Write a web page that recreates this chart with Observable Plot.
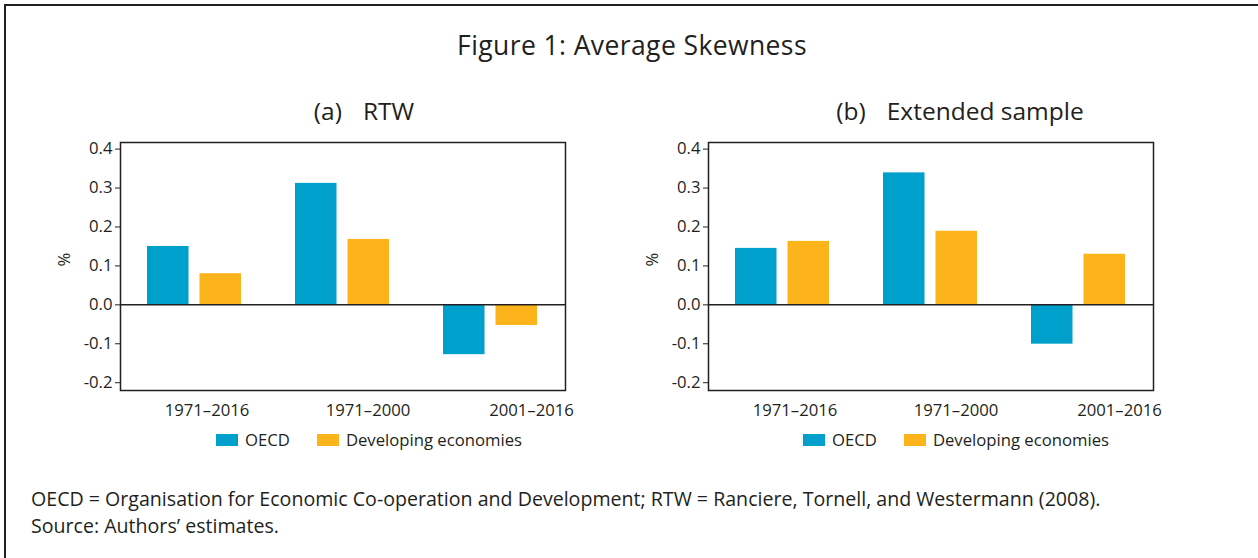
<!DOCTYPE html>
<html>
<head>
<meta charset="utf-8">
<script src="https://cdn.jsdelivr.net/npm/d3@7"></script>
<script src="https://cdn.jsdelivr.net/npm/@observablehq/plot@0.6"></script>
<style>
  html, body { margin: 0; padding: 0; background: #fff; }
  body { font-family: "Open Sans", "Noto Sans", sans-serif; color: #231f20; }
  #fig { position: relative; width: 1258px; height: 558px; overflow: hidden; }
  #border { position: absolute; left: 4px; top: 4px; right: -10px; bottom: -10px; border-top: 2px solid #231f20; border-left: 2px solid #231f20; }
  .abs { position: absolute; }
  #title { left: 0; width: 1264px; top: 27px; text-align: center; font-size: 26.5px; letter-spacing: 0.4px; }
  .sub { font-size: 24.5px; text-align: center; width: 400px; top: 94px; }
  .sub .gap { display: inline-block; width: 21px; }
  .note { left: 31px; font-size: 19.6px; white-space: nowrap; }
  .lg-swatch { margin-right: 27px !important; }
  .lg-swatch > svg { margin-right: 7px !important; }
</style>
</head>
<body>
<div id="fig">
  <div id="border"></div>
  <div id="title" class="abs">Figure 1: Average Skewness</div>
  <div class="abs sub" style="left:164px"><span>(a)</span><span class="gap"></span><span>RTW</span></div>
  <div class="abs sub" style="left:760px"><span>(b)</span><span class="gap"></span><span>Extended sample</span></div>
  <div id="p1" class="abs" style="left:70px; top:132px"></div>
  <div id="p2" class="abs" style="left:658px; top:132px"></div>
  <div id="l1" class="abs" style="left:216px; top:423px"></div>
  <div id="l2" class="abs" style="left:803px; top:423px"></div>
  <div class="abs note" style="top:485px">OECD = Organisation for Economic Co-operation and Development; RTW = Ranciere, Tornell, and Westermann (2008).</div>
  <div class="abs note" style="top:512px">Source: Authors’ estimates.</div>
</div>
<script>
const periods = ["1971–2016", "1971–2000", "2001–2016"];
const series = ["OECD", "Developing economies"];
const colors = ["#00A0CC", "#FDB41B"];
const yTicks = [-0.2, -0.1, 0, 0.1, 0.2, 0.3, 0.4];

// (a) RTW
const rtwOECD = [0.150, 0.312, -0.128];
const rtwDev = [0.080, 0.168, -0.053];
// (b) Extended sample
const extOECD = [0.145, 0.339, -0.101];
const extDev = [0.163, 0.189, 0.130];

// horizontal shift of each period label relative to its bar group (as in the original)
const labelShift = [12.5, 25.5, 41];

function panel(oecd, dev) {
  const rowsO = periods.map((p, i) => ({period: p, series: series[0], value: oecd[i]}));
  const rowsD = periods.map((p, i) => ({period: p, series: series[1], value: dev[i]}));
  return Plot.plot({
    width: 588, height: 298,
    marginLeft: 50, marginRight: 93, marginTop: 10, marginBottom: 40,
    style: {fontFamily: "'Open Sans', 'Noto Sans', sans-serif", fontSize: "16.7px", color: "#231f20", background: "transparent", overflow: "visible"},
    x: {domain: periods, paddingInner: 0.362, paddingOuter: 0.181, axis: null},
    y: {domain: [-0.22, 0.417], ticks: yTicks, tickFormat: d => d.toFixed(1), label: null, tickSize: 5, tickPadding: 3},
    color: {domain: series, range: colors},
    marks: [
      Plot.barY(rowsO, {x: "period", y: "value", fill: "series", insetRight: 52.5}),
      Plot.barY(rowsD, {x: "period", y: "value", fill: "series", insetLeft: 52.5}),
      Plot.ruleY([0], {stroke: "#231f20", strokeWidth: 1.5}),
      Plot.frame({stroke: "#231f20", strokeWidth: 1.5}),
      ...periods.map((p, i) => Plot.text([p], {x: d => d, text: d => d, frameAnchor: "bottom", lineAnchor: "middle", dy: 20, dx: labelShift[i], fontSize: 16.7, fill: "#231f20"})),
      Plot.text(["%"], {text: d => d, frameAnchor: "left", dx: -56, rotate: -90, fontSize: 16.7, fill: "#231f20"})
    ]
  });
}

function legend() {
  return Plot.legend({
    color: {domain: series, range: colors},
    legend: "swatches",
    swatchWidth: 22, swatchHeight: 12,
    className: "lg",
    style: {fontFamily: "'Open Sans', 'Noto Sans', sans-serif", fontSize: "16.7px", color: "#231f20"}
  });
}

document.getElementById("p1").appendChild(panel(rtwOECD, rtwDev));
document.getElementById("p2").appendChild(panel(extOECD, extDev));
document.getElementById("l1").appendChild(legend());
document.getElementById("l2").appendChild(legend());
</script>
</body>
</html>
